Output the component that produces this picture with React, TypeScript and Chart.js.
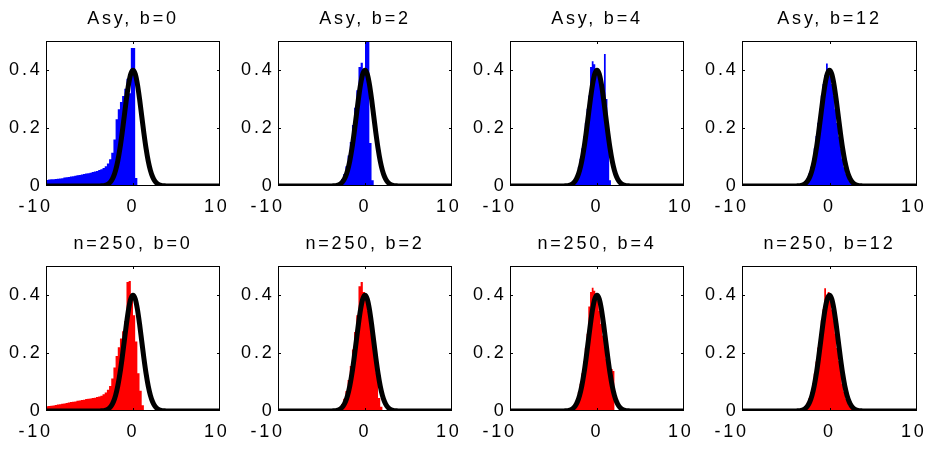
import React, { useEffect, useRef } from 'react';
import { Chart, registerables } from 'chart.js';

Chart.register(...registerables);

const FONT = "'Liberation Sans', Arial, Helvetica, sans-serif";
const FONT_SIZE = 18;

// standard normal density (black curve)
const NORMAL_X = [-10, -4, -3.75, -3.5, -3.25, -3, -2.75, -2.5, -2.25, -2, -1.75, -1.5, -1.25, -1, -0.75, -0.5, -0.25, 0,
  0.25, 0.5, 0.75, 1, 1.25, 1.5, 1.75, 2, 2.25, 2.5, 2.75, 3, 3.25, 3.5, 3.75, 4, 10];
const NORMAL_Y = [0, 0.0001, 0.0004, 0.0009, 0.002, 0.0044, 0.0091, 0.0175, 0.0317, 0.054, 0.0863, 0.1295, 0.1826, 0.242, 0.3011, 0.3521, 0.3867, 0.3989,
  0.3867, 0.3521, 0.3011, 0.242, 0.1826, 0.1295, 0.0863, 0.054, 0.0317, 0.0175, 0.0091, 0.0044, 0.002, 0.0009, 0.0004, 0.0001, 0];

const TITLES = ['Asy, b=0', 'Asy, b=2', 'Asy, b=4', 'Asy, b=12', 'n=250, b=0', 'n=250, b=2', 'n=250, b=4', 'n=250, b=12'];
const COLORS = ['#0000ff', '#0000ff', '#0000ff', '#0000ff', '#ff0000', '#ff0000', '#ff0000', '#ff0000'];
const X_TICKS = [-10, 0, 10];
const X_TICK_LABELS = ['-10\u2003', '0', '10\u2009'];
const Y_TICKS = [0, 0.2, 0.4];

// histogram bins: left edge of first bin, bin width, bar heights
const HIST_START = [-10, -3, -3, -3.2, -10, -4.5, -3, -3.2];
const HIST_WIDTH = [0.25, 0.25, 0.2, 0.2, 0.25, 0.25, 0.2, 0.2];

const ASY_B0 = [0.021, 0.021, 0.022, 0.023, 0.023, 0.024, 0.025, 0.026, 0.027, 0.029, 0.030, 0.031, 0.033, 0.034,
  0.035, 0.037, 0.038, 0.040, 0.041, 0.043, 0.044, 0.046, 0.048, 0.050, 0.052, 0.055, 0.058, 0.062,
  0.068, 0.078, 0.092, 0.115, 0.16, 0.23, 0.265, 0.29, 0.31, 0.335, 0.37, 0.32, 0.476, 0.476, 0.028];
const ASY_B2 = [0.006, 0.012, 0.024, 0.041, 0.068, 0.105, 0.152, 0.21, 0.27, 0.33, 0.41, 0.425, 0.39, 0.56, 0.56, 0.148, 0.02];
const ASY_B4 = [0.006, 0.010, 0.017, 0.028, 0.044, 0.066, 0.094, 0.13, 0.171, 0.218, 0.266, 0.312,
  0.41, 0.43, 0.42, 0.40, 0.385, 0.365, 0.355, 0.345, 0.455, 0.30, 0.15, 0.02];
const ASY_B12 = [0.003, 0.006, 0.011, 0.018, 0.028, 0.044, 0.066, 0.094, 0.13, 0.172, 0.218, 0.266, 0.312, 0.352, 0.382, 0.422,
  0.398, 0.38, 0.352, 0.311, 0.265, 0.217, 0.171, 0.129, 0.094, 0.065, 0.044, 0.028, 0.017, 0.010, 0.006, 0.003];
const N250_B0 = [0.015, 0.016, 0.017, 0.018, 0.019, 0.021, 0.022, 0.023, 0.025, 0.026, 0.028, 0.029, 0.031, 0.032,
  0.033, 0.035, 0.036, 0.038, 0.039, 0.041, 0.042, 0.043, 0.045, 0.046, 0.048, 0.050, 0.053, 0.058,
  0.064, 0.073, 0.086, 0.112, 0.15, 0.19, 0.22, 0.25, 0.275, 0.31, 0.445, 0.448, 0.40, 0.33, 0.24, 0.13, 0.07, 0.02];
const N250_B2 = [0.003, 0.003, 0.004, 0.005, 0.005, 0.007, 0.009, 0.014, 0.024, 0.042, 0.069, 0.107, 0.155, 0.212, 0.272, 0.33,
  0.43, 0.445, 0.41, 0.385, 0.345, 0.30, 0.26, 0.205, 0.13, 0.045, 0.015];
const N250_B4 = [0.006, 0.010, 0.017, 0.028, 0.044, 0.066, 0.094, 0.13, 0.171, 0.218, 0.266,
  0.36, 0.41, 0.425, 0.415, 0.40, 0.38, 0.345, 0.30, 0.26, 0.22, 0.18, 0.15, 0.147, 0.145, 0.138];
const N250_B12 = [0.003, 0.006, 0.010, 0.017, 0.029, 0.045, 0.065, 0.095, 0.129, 0.171, 0.219, 0.265, 0.313, 0.351, 0.423, 0.385,
  0.41, 0.38, 0.35, 0.312, 0.266, 0.217, 0.172, 0.13, 0.093, 0.066, 0.043, 0.029, 0.017, 0.011, 0.006, 0.003];

const HEIGHTS = [ASY_B0, ASY_B2, ASY_B4, ASY_B12, N250_B0, N250_B2, N250_B4, N250_B12];

// layout (pixels)
const PLOT_LEFT = [46, 278, 510, 742];
const PLOT_W = [174, 174, 174, 175];
const PLOT_TOP = [41, 266];
const PLOT_H = 145;
const Y_AXIS_W = 46;
const TITLE_H = 41;
const X_AXIS_H = 36;
const RIGHT_PAD = 22;

const framePlugin = {
  id: 'frame',
  beforeDraw(chart: any) {
    chart.ctx.letterSpacing = '2.8px';
  },
  afterDraw(chart: any) {
    const { ctx, chartArea } = chart;
    const { left, top, right, bottom } = chartArea;
    ctx.save();
    ctx.strokeStyle = '#000';
    ctx.lineWidth = 1;
    ctx.strokeRect(left + 0.5, top + 0.5, right - left - 1, bottom - top - 1);
    const ys = chart.scales.y;
    const xs = chart.scales.x;
    ctx.beginPath();
    [0.2, 0.4].forEach((v) => {
      const p = Math.round(ys.getPixelForValue(v)) + 0.5;
      ctx.moveTo(left, p); ctx.lineTo(left + 3, p);
      ctx.moveTo(right, p); ctx.lineTo(right - 3, p);
    });
    const px = Math.round(xs.getPixelForValue(0)) + 0.5;
    ctx.moveTo(px, top); ctx.lineTo(px, top + 3);
    ctx.moveTo(px, bottom); ctx.lineTo(px, bottom - 3);
    ctx.stroke();
    ctx.restore();
  },
};

function Panel({ idx }: { idx: number }) {
  const ref = useRef<HTMLCanvasElement>(null);
  const col = idx % 4;
  const row = Math.floor(idx / 4);
  const width = PLOT_W[col] + Y_AXIS_W + RIGHT_PAD;
  const height = TITLE_H + PLOT_H + X_AXIS_H;

  useEffect(() => {
    const heights = HEIGHTS[idx];
    const start = HIST_START[idx];
    const bw = HIST_WIDTH[idx];
    const hist = heights.map((h, i) => ({ x: start + i * bw, y: h }));
    hist.push({ x: start + heights.length * bw, y: 0 });
    const curve = NORMAL_X.map((x, i) => ({ x, y: NORMAL_Y[i] }));
    const tickFont = { family: FONT, size: FONT_SIZE };

    const chart = new Chart(ref.current as HTMLCanvasElement, {
      type: 'line',
      data: {
        datasets: [
          {
            data: curve,
            borderColor: '#000',
            borderWidth: 5,
            pointRadius: 0,
            cubicInterpolationMode: 'monotone',
            fill: false,
            order: 0,
          } as any,
          {
            data: hist,
            stepped: 'after',
            borderColor: 'rgba(0,0,0,0)',
            borderWidth: 0,
            backgroundColor: COLORS[idx],
            fill: 'origin',
            pointRadius: 0,
            order: 1,
          } as any,
        ],
      },
      options: {
        animation: false,
        responsive: false,
        maintainAspectRatio: false,
        events: [],
        layout: { padding: { left: 0, right: RIGHT_PAD, top: 0, bottom: 0 } },
        plugins: {
          legend: { display: false },
          tooltip: { enabled: false },
          title: {
            display: true,
            text: TITLES[idx],
            color: '#000',
            fullSize: false,
            font: { family: FONT, size: FONT_SIZE, weight: 'normal' },
            padding: { top: 8, bottom: 11.4 },
          },
        },
        scales: {
          x: {
            type: 'linear',
            min: -10,
            max: 10,
            grid: { display: false, drawTicks: false },
            border: { display: false },
            afterBuildTicks: (s: any) => { s.ticks = X_TICKS.map((v) => ({ value: v })); },
            afterFit: (s: any) => { s.height = X_AXIS_H; s.paddingLeft = 0; s.paddingRight = 0; },
            ticks: {
              color: '#000',
              font: tickFont,
              padding: 10,
              maxRotation: 0,
              autoSkip: false,
              callback: (v: number) => X_TICK_LABELS[X_TICKS.indexOf(v)],
            },
          },
          y: {
            type: 'linear',
            min: 0,
            max: 0.5,
            grid: { display: false, drawTicks: false },
            border: { display: false },
            afterBuildTicks: (s: any) => { s.ticks = Y_TICKS.map((v) => ({ value: v })); },
            afterFit: (s: any) => { s.width = Y_AXIS_W; s.paddingTop = 0; s.paddingBottom = 0; },
            ticks: { color: '#000', font: tickFont, padding: 3.5, autoSkip: false },
          },
        },
      } as any,
      plugins: [framePlugin],
    });
    return () => chart.destroy();
  }, [idx]);

  return (
    <canvas
      ref={ref}
      width={width}
      height={height}
      style={{
        position: 'absolute',
        left: PLOT_LEFT[col] - Y_AXIS_W,
        top: PLOT_TOP[row] - TITLE_H,
        width,
        height,
      }}
    />
  );
}

export default function App() {
  return (
    <div style={{ position: 'absolute', left: 0, top: 0, width: 936, height: 449, background: '#fff', overflow: 'hidden' }}>
      {TITLES.map((_, i) => (
        <Panel key={i} idx={i} />
      ))}
    </div>
  );
}
